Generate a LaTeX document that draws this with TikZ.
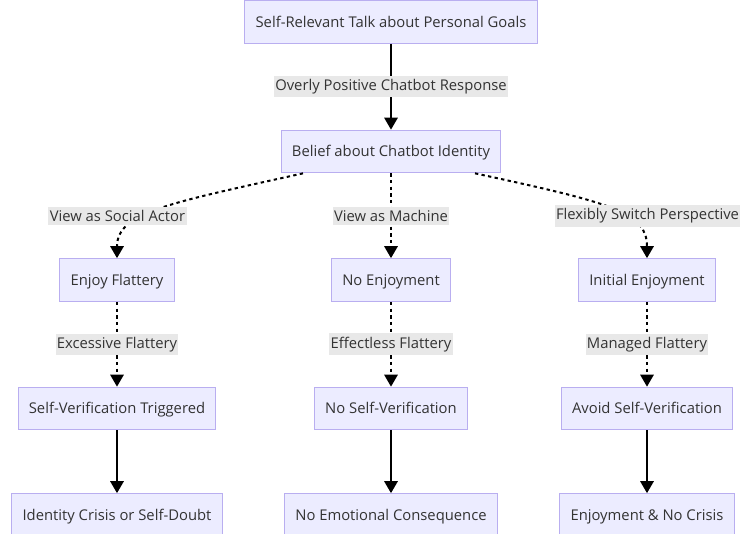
\documentclass[tikz,border=0pt]{standalone}
\usepackage{fontspec}
\setmainfont{Open Sans}
\usetikzlibrary{positioning, arrows.meta}
\definecolor{boxfill}{HTML}{ECECFF}
\definecolor{boxline}{HTML}{B9AEF0}
\definecolor{labelfill}{HTML}{E8E8E8}
\definecolor{txt}{HTML}{333333}

\begin{document}
\begin{tikzpicture}[
    x=0.75pt, y=-0.75pt,
    every node/.style={align=center, text=txt, font=\fontsize{11.1}{13}\selectfont},
    box/.style={draw=boxline, fill=boxfill, line width=0.75pt, minimum height=32pt, inner xsep=8pt, text height=9pt, text depth=1pt},
    elabel/.style={fill=labelfill, inner xsep=1pt, inner ysep=2.5pt},
    solidarrow/.style={-{Triangle[length=9pt, width=10pt]}, line width=1.5pt},
    dotarrow/.style={solidarrow, dash pattern=on 2.5pt off 2.5pt}
]
\useasboundingbox[fill=white] (0,0) rectangle (740,533);

% start and belief
\node[box] (talk) at (391,22) {Self-Relevant Talk about Personal Goals};
\node[box] (belief) at (391,151.5) {Belief about Chatbot Identity};

% three views
\node[box] (enjoy) at (117,280) {Enjoy Flattery};
\node[box] (noenjoy) at (391,280) {No Enjoyment};
\node[box] (initial) at (647,280) {Initial Enjoyment};

% verification
\node[box] (triggered) at (117,408.5) {Self-Verification Triggered};
\node[box] (noverify) at (391,408.5) {No Self-Verification};
\node[box] (avoid) at (647,408.5) {Avoid Self-Verification};

% outcomes
\node[box] (crisis) at (117,515) {Identity Crisis or Self-Doubt};
\node[box] (noconseq) at (391,515) {No Emotional Consequence};
\node[box] (nocrisis) at (647,515) {Enjoyment \& No Crisis};

% edges
\draw[solidarrow] (talk) -- node[elabel] {Overly Positive Chatbot Response} (belief);
\draw[dotarrow] ([xshift=-66pt]belief.south) .. controls (170,203) and (117,212) .. (enjoy.north);
\draw[dotarrow] (belief) -- node[elabel] {View as Machine} (noenjoy);
\draw[dotarrow] ([xshift=63pt]belief.south) .. controls (612,203) and (647,212) .. (initial.north);
\node[elabel] (lactor) at (117.5,216) {View as Social Actor};
\node[elabel] (lswitch) at (647.5,216) {Flexibly Switch Perspective};

\draw[dotarrow] (enjoy) -- node[elabel] {Excessive Flattery} (triggered);
\draw[dotarrow] (noenjoy) -- node[elabel] {Effectless Flattery} (noverify);
\draw[dotarrow] (initial) -- node[elabel] {Managed Flattery} (avoid);

\draw[solidarrow] (triggered) -- (crisis);
\draw[solidarrow] (noverify) -- (noconseq);
\draw[solidarrow] (avoid) -- (nocrisis);

\end{tikzpicture}
\end{document}
